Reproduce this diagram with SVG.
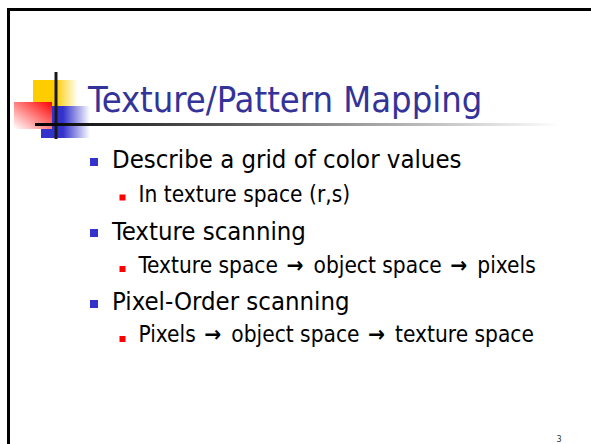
<svg xmlns="http://www.w3.org/2000/svg" width="591" height="444" viewBox="0 0 591 444">
  <defs>
    <style>
      .txt { font-family: "DejaVu Sans Condensed", "DejaVu Sans", sans-serif; }
      .title { font-size: 36px; fill: #333399; }
      .l1 { font-size: 25.5px; fill: #000000; }
      .l2 { font-size: 22.5px; fill: #000000; }
      .arr { font-weight: bold; letter-spacing: 1.5px; }
      .b1 { fill: #3333CC; }
      .b2 { fill: #FF0000; }
      .bar { stroke: #1a1a1a; stroke-width: 3; }
    </style>
    <linearGradient id="gYellow" x1="0" y1="0" x2="1" y2="0">
      <stop offset="0" stop-color="#FFCC00"/>
      <stop offset="0.5" stop-color="#FFCC00"/>
      <stop offset="1" stop-color="#FFFFFF"/>
    </linearGradient>
    <linearGradient id="gBlue" x1="0" y1="0" x2="1" y2="0">
      <stop offset="0" stop-color="#3333CC"/>
      <stop offset="0.45" stop-color="#3333CC"/>
      <stop offset="1" stop-color="#FFFFFF"/>
    </linearGradient>
    <linearGradient id="gRed" x1="1" y1="0" x2="0" y2="1">
      <stop offset="0" stop-color="#FF0000"/>
      <stop offset="1" stop-color="#FFFFFF"/>
    </linearGradient>
    <linearGradient id="gRule" gradientUnits="userSpaceOnUse" x1="35" y1="0" x2="560" y2="0">
      <stop offset="0" stop-color="#000000"/>
      <stop offset="1" stop-color="#FFFFFF"/>
    </linearGradient>
  </defs>

  <rect width="591" height="444" fill="#FFFFFF"/>

  <!-- slide frame -->
  <path d="M8.5,444 V9.5 H591" fill="none" stroke="#000000" stroke-width="3"/>

  <!-- title ornament -->
  <g id="logo">
    <rect x="33" y="80" width="45" height="28" fill="url(#gYellow)"/>
    <rect x="41" y="106" width="49" height="32" fill="url(#gBlue)"/>
    <rect x="14" y="102" width="38" height="27" fill="url(#gRed)"/>
    <line class="bar" x1="56" y1="72" x2="56" y2="139"/>
  </g>

  <!-- title rule -->
  <rect x="35" y="123" width="525" height="3" fill="url(#gRule)"/>

  <g id="title">
    <text class="txt title" x="88" y="112">Texture/Pattern Mapping</text>
  </g>

  <g id="item1">
    <rect class="b1" x="90" y="158" width="8" height="8"/>
    <text class="txt l1" x="112" y="168">Describe a grid of color values</text>
  </g>
  <g id="item1a">
    <rect class="b2" x="119.5" y="194.5" width="6" height="6"/>
    <text class="txt l2" x="138.5" y="202">In texture space (r,s)</text>
  </g>
  <g id="item2">
    <rect class="b1" x="90" y="229" width="8" height="8"/>
    <text class="txt l1" x="112" y="240">Texture scanning</text>
  </g>
  <g id="item2a">
    <rect class="b2" x="119.5" y="266" width="6" height="6"/>
    <text class="txt l2" x="138.5" y="273">Texture space<tspan class="arr"> → </tspan>object space<tspan class="arr"> → </tspan>pixels</text>
  </g>
  <g id="item3">
    <rect class="b1" x="90" y="300" width="8" height="8"/>
    <text class="txt l1" x="112" y="310">Pixel-Order scanning</text>
  </g>
  <g id="item3a">
    <rect class="b2" x="119.5" y="336" width="6" height="6"/>
    <text class="txt l2" x="138.5" y="342">Pixels<tspan class="arr"> → </tspan>object space<tspan class="arr"> → </tspan>texture space</text>
  </g>

  <g id="pagenum">
    <text class="txt" x="556.5" y="442" font-size="9" fill="#333333">3</text>
  </g>
</svg>
